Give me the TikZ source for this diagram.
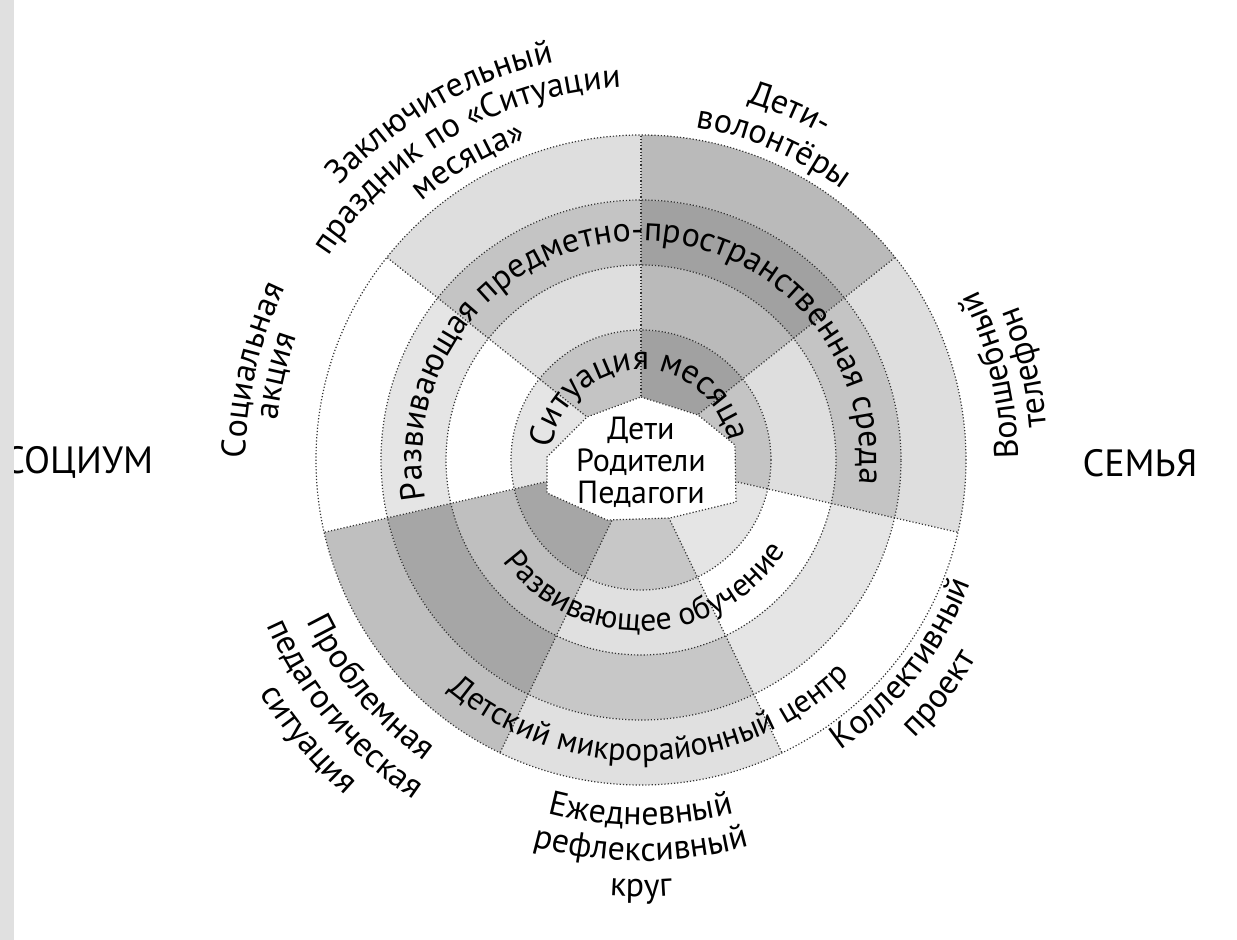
\documentclass[tikz,border=0pt]{standalone}
\usepackage{fontspec}
\setmainfont{PT Sans}
\usetikzlibrary{decorations.text}
\newcommand{\lbl}{\fontsize{17}{17}\selectfont}
\newcommand{\inlbl}{\fontsize{16}{16}\selectfont}
\newcommand{\biglbl}{\fontsize{19}{19}\selectfont}
% curved labels: centre angle, half span, radius, text
\newcommand{\cwlabel}[4]{\path[decorate, decoration={text along path, text align=center, text={|\lbl|#4}}] ({#1+#2}:#3) arc[start angle={#1+#2}, end angle={#1-#2}, radius=#3];}
\newcommand{\ccwlabel}[4]{\path[decorate, decoration={text along path, text align=center, text={|\lbl|#4}}] ({#1-#2}:#3) arc[start angle={#1-#2}, end angle={#1+#2}, radius=#3];}
\tikzset{
  ringline/.style={densely dotted, line width=0.6pt, black!80},
}

\begin{document}
\begin{tikzpicture}[x=0.5pt, y=0.5pt]
	\useasboundingbox (-641,-480) rectangle (596,460);

	% shaded cells, sector k runs clockwise from the top
	\foreach \k/\t in {0/27,1/13,2/0,3/12,4/25,5/0,6/13}{
		\foreach \ri/\ro/\dt in {0/130/10,130/195/0,195/260/10,260/325/0}{
			\pgfmathsetmacro\tone{\t+\dt}
			\fill[black!\tone] ({90-(\k+1)*360/7}:\ri) arc[start angle={90-(\k+1)*360/7}, end angle={90-\k*360/7}, radius=\ri]
				-- ({90-\k*360/7}:\ro) arc[start angle={90-\k*360/7}, end angle={90-(\k+1)*360/7}, radius=\ro] -- cycle;
		}
	}

	\foreach \r in {130,195,260,325} \draw[ringline] (0,0) circle[radius=\r];
	\foreach \k in {0,...,6} \draw[ringline] (0,0) -- ({90-\k*360/7}:325);

	% white centre
	\filldraw[ringline, fill=white] (0,63) -- (57,45) -- (94,15) -- (95,-42) -- (29,-58) -- (-34,-60) -- (-94,-33) -- (-94,3) -- (-54,43) -- cycle;
	\node[align=center, font=\inlbl] (people) at (0,-2) {Дети\\Родители\\Педагоги};

	% ring texts
	\path[decorate, decoration={text along path, text align=center, text={|\lbl|Ситуация месяца}}] (172:90) arc[start angle=172, end angle=12, radius=90];
	\path[decorate, decoration={text along path, text align=center, text={|\lbl|Развивающая предметно-пространственная среда}}] (212:219) arc[start angle=212, end angle=-28, radius=219];
	\path[decorate, decoration={text along path, text align=center, text={|\inlbl|Развивающее обучение}}] (192:171) arc[start angle=192, end angle=352, radius=171];
	\path[decorate, decoration={text along path, text align=center, text={|\inlbl|Детский микрорайонный центр}}] (192:301) arc[start angle=192, end angle=352, radius=301];

	% outer labels
	\cwlabel{120}{60}{407}{Заключительный}
	\cwlabel{120}{60}{373}{праздник по «Ситуации}
	\cwlabel{120}{60}{339}{месяца»}
	\cwlabel{67}{40}{373}{Дети-}
	\cwlabel{67}{40}{337}{волонтёры}
	\cwlabel{167}{50}{395}{Социальная}
	\cwlabel{167}{50}{366}{акция}
	\ccwlabel{13.5}{50}{377}{Волшебный}
	\ccwlabel{13.5}{50}{407}{телефон}
	\ccwlabel{-38}{50}{352}{Коллективный}
	\ccwlabel{-38}{50}{390}{проект}
	\ccwlabel{-90}{50}{365}{Ежедневный}
	\ccwlabel{-90}{50}{401}{рефлексивный}
	\ccwlabel{-90}{50}{437}{круг}
	\ccwlabel{-140}{50}{371}{Проблемная}
	\ccwlabel{-140}{50}{409}{педагогическая}
	\ccwlabel{-140}{50}{447}{ситуация}

	\node[anchor=west, font=\biglbl, inner sep=0pt] (socium) at (-638,-2) {СОЦИУМ};
	\node[font=\biglbl] (family) at (499,-3) {СЕМЬЯ};

	% scan edge
	\fill[black!12] (-641,-480) rectangle (-627,460);
\end{tikzpicture}
\end{document}
